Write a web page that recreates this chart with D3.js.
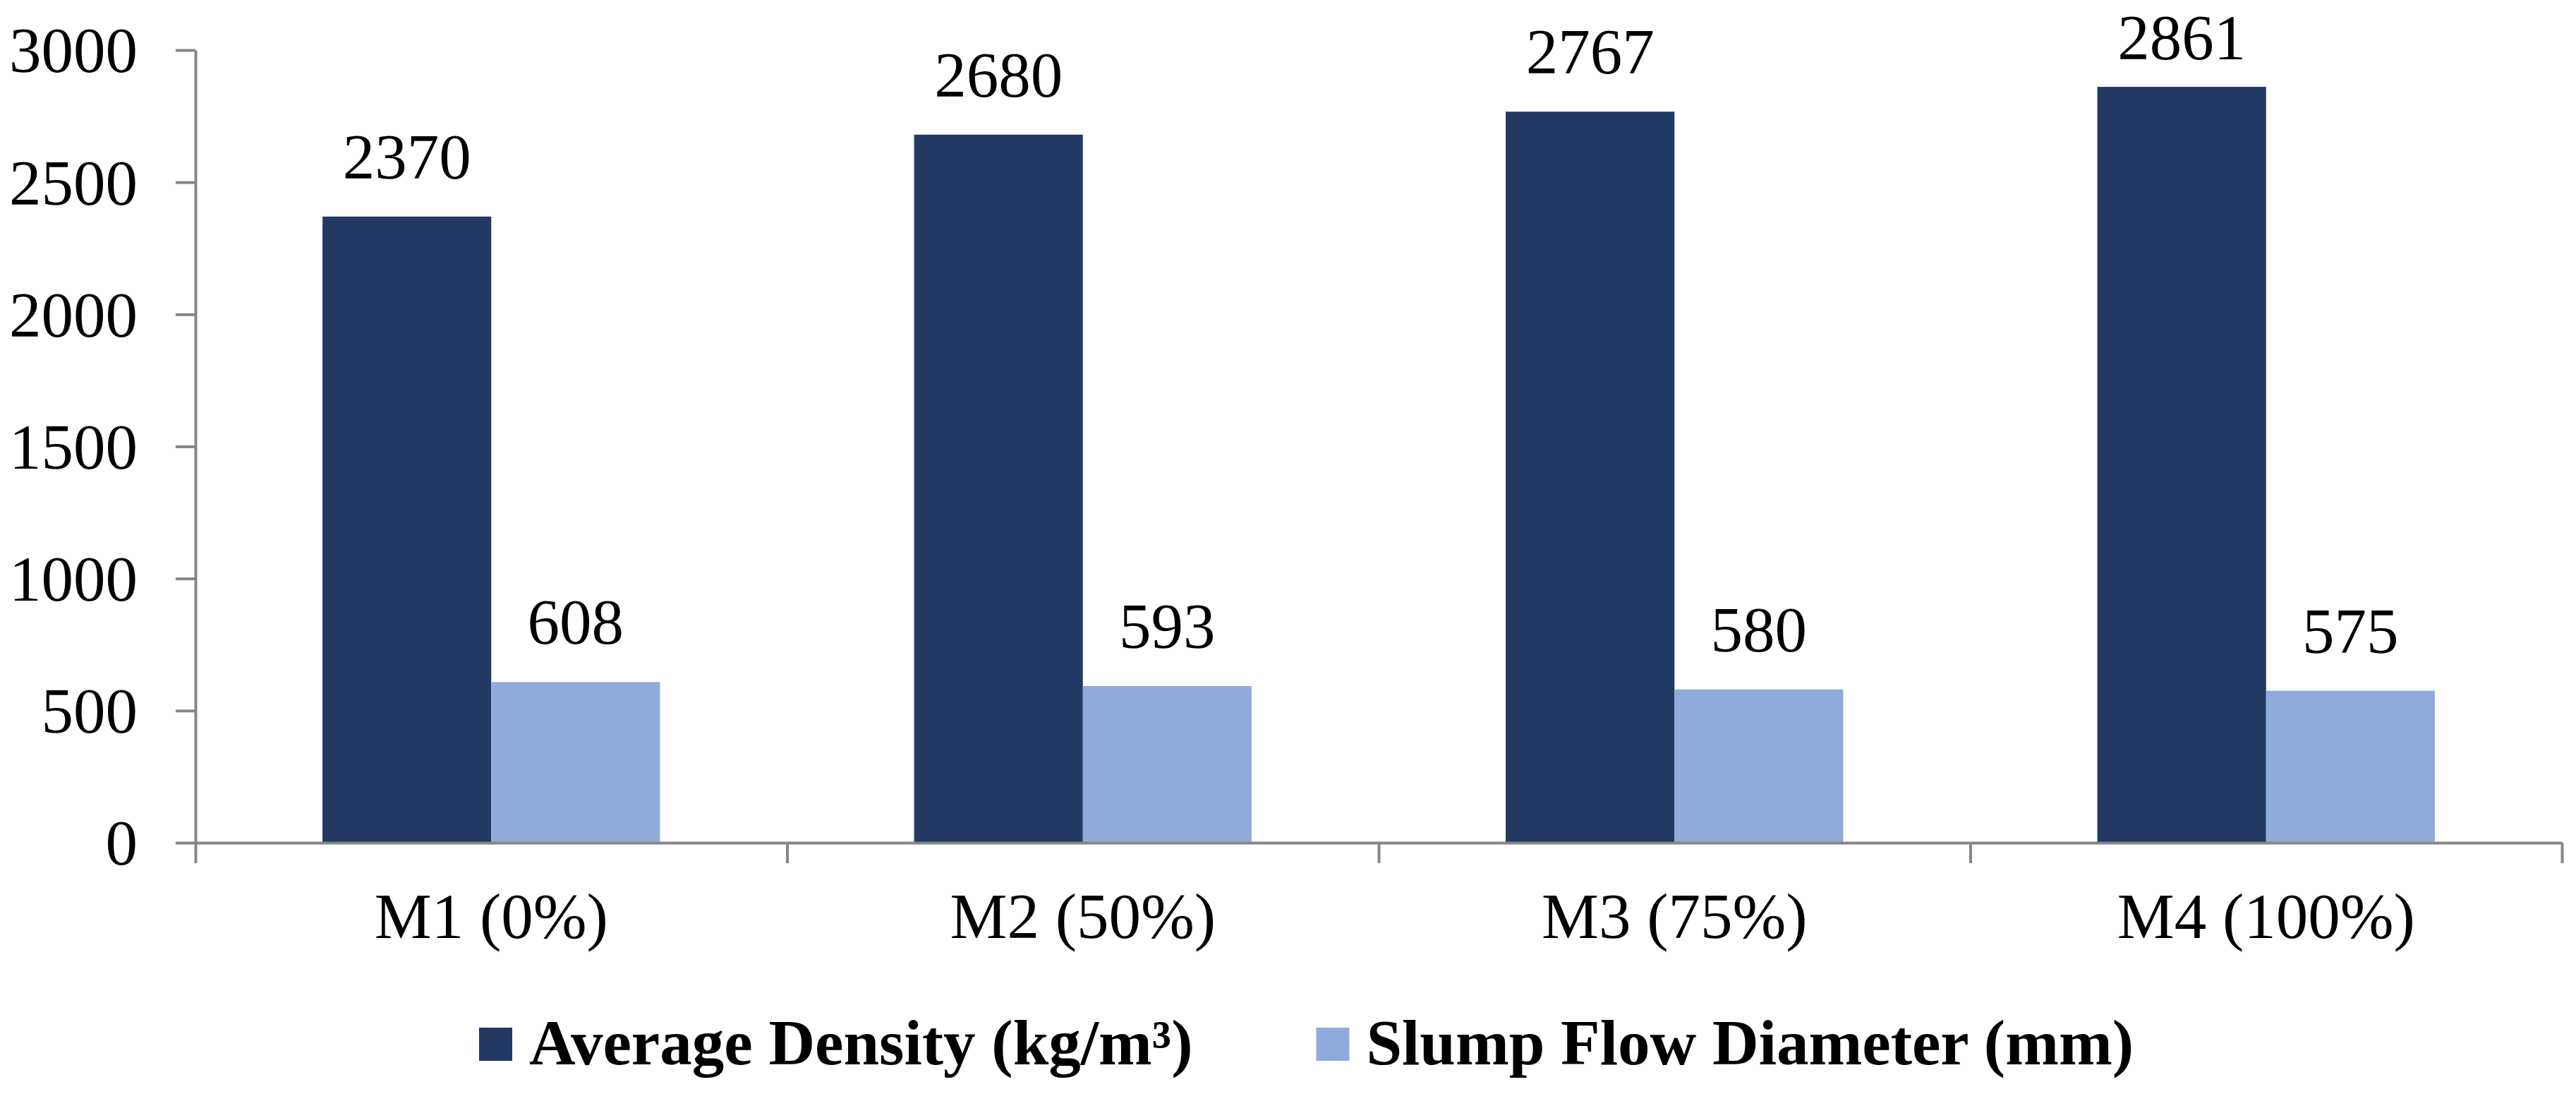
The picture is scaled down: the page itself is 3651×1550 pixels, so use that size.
<!DOCTYPE html>
<html lang="en">
<head>
  <meta charset="UTF-8">
  <title>Average Density and Slump Flow Diameter</title>
  <style>
    body {
      margin: 0;
      background: #fff;
      overflow: hidden;
    }
    svg {
      display: block;
      font-family: "Times New Roman", "Liberation Serif", serif;
    }
    .axis path, .axis line {
      stroke: #868686;
      stroke-width: 4px;
    }
    .axis text {
      fill: #000;
      font-size: 91px;
      font-family: "Times New Roman", "Liberation Serif", serif;
    }
    .value-label {
      font-size: 91px;
      fill: #000;
    }
    .legend text {
      font-size: 91px;
      font-weight: bold;
      fill: #000;
    }
  </style>
</head>
<body>
  <svg width="3651" height="1550"></svg>

  <script src="https://d3js.org/d3.v7.min.js"></script>
  <script>
    // Data
    const categories = ["M1 (0%)", "M2 (50%)", "M3 (75%)", "M4 (100%)"];
    const seriesNames = ["Average Density (kg/m³)", "Slump Flow Diameter (mm)"];
    const densityValues = [2370, 2680, 2767, 2861];
    const slumpValues = [608, 593, 580, 575];
    const yTicks = [0, 500, 1000, 1500, 2000, 2500, 3000];
    const seriesColors = ["#213963", "#8FABDB"];

    const svg = d3.select("svg");
    const margin = { left: 277, right: 20, top: 71, bottom: 356 };
    const width = 3651;
    const height = 1550;
    const plotRight = 3631;
    const plotBottom = height - margin.bottom; // 1194

    const x = d3.scaleBand()
      .domain(categories)
      .range([margin.left, plotRight])
      .paddingInner(0)
      .paddingOuter(0);

    // inner band for the two bars of a group
    const xSub = d3.scaleBand()
      .domain(seriesNames)
      .range([0, x.bandwidth()])
      .paddingInner(0)
      .paddingOuter(0.753);

    const y = d3.scaleLinear()
      .domain([0, 3000])
      .range([plotBottom, margin.top]);

    const rows = categories.map((c, i) => ({
      category: c,
      values: [densityValues[i], slumpValues[i]]
    }));

    // Bars
    const groups = svg.append("g")
      .selectAll("g")
      .data(rows)
      .join("g")
      .attr("transform", d => `translate(${x(d.category)},0)`);

    groups.selectAll("rect")
      .data(d => d.values.map((v, j) => ({ name: seriesNames[j], value: v, j })))
      .join("rect")
      .attr("x", d => xSub(d.name))
      .attr("y", d => y(d.value))
      .attr("width", xSub.bandwidth())
      .attr("height", d => y(0) - y(d.value))
      .attr("fill", d => seriesColors[d.j]);

    // Value labels above bars (kept inside the frame like the original)
    groups.selectAll("text")
      .data(d => d.values.map((v, j) => ({ name: seriesNames[j], value: v })))
      .join("text")
      .attr("class", "value-label")
      .attr("x", d => xSub(d.name) + xSub.bandwidth() / 2)
      .attr("y", d => Math.max(y(d.value) - 54, 84))
      .attr("text-anchor", "middle")
      .text(d => d.value);

    // Y axis
    const yAxis = svg.append("g")
      .attr("class", "axis")
      .attr("transform", `translate(${margin.left},0)`)
      .call(d3.axisLeft(y)
        .tickValues(yTicks)
        .tickFormat(d3.format("d"))
        .tickSize(28)
        .tickSizeOuter(0)
        .tickPadding(54));
    yAxis.selectAll("text").attr("dy", "0.34em");

    // X axis: baseline with boundary ticks
    const xEdge = d3.scaleLinear().domain([0, categories.length]).range([margin.left, plotRight]);
    svg.append("g")
      .attr("class", "axis")
      .attr("transform", `translate(0,${plotBottom})`)
      .call(d3.axisBottom(xEdge)
        .tickValues(d3.range(categories.length + 1))
        .tickFormat("")
        .tickSize(29)
        .tickSizeOuter(0));

    // Category labels
    const xAxis = svg.append("g")
      .attr("class", "axis")
      .attr("transform", `translate(0,${plotBottom})`)
      .call(d3.axisBottom(x).tickSize(0).tickPadding(70));
    xAxis.select(".domain").remove();

    // Legend
    const legend = svg.append("g").attr("class", "legend");
    let lx = 679;
    seriesNames.forEach((name, i) => {
      const item = legend.append("g").attr("transform", `translate(${lx},0)`);
      item.append("rect")
        .attr("x", 0)
        .attr("y", 1456)
        .attr("width", 47)
        .attr("height", 47)
        .attr("fill", seriesColors[i]);
      const t = item.append("text")
        .attr("x", 71)
        .attr("y", 1508)
        .text(name);
      lx += 71 + t.node().getComputedTextLength() + 175;
    });
  </script>
</body>
</html>
